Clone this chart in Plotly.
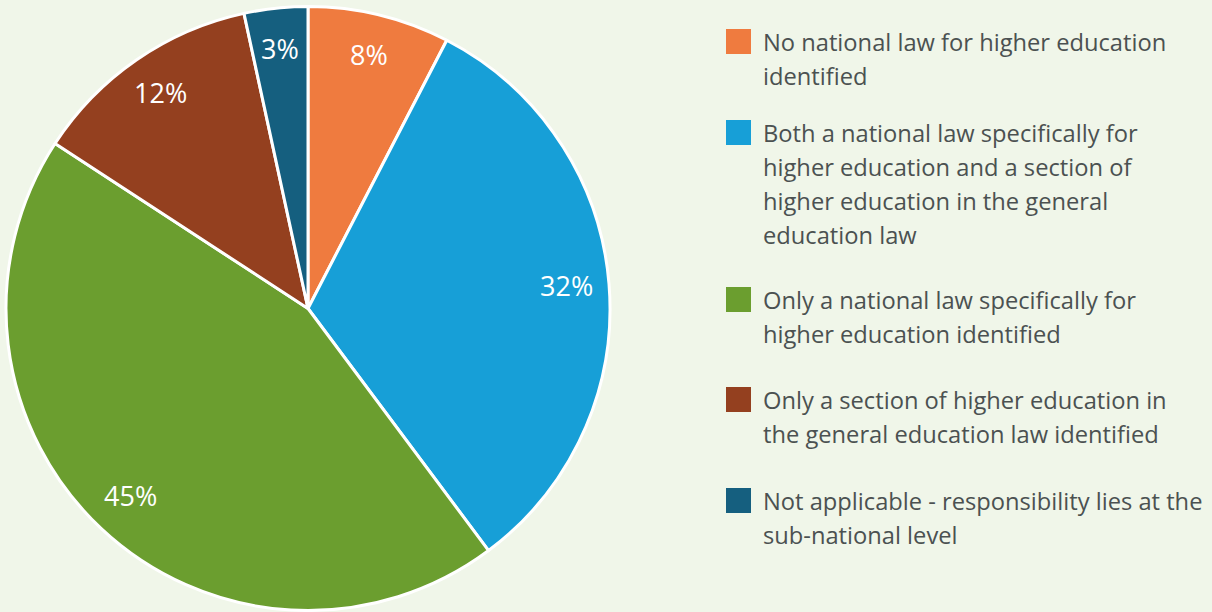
import math
import plotly.graph_objects as go

# ---- data ----
categories = [
    "No national law for higher education<br>identified",
    "Both a national law specifically for<br>higher education and a section of<br>higher education in the general<br>education law",
    "Only a national law specifically for<br>higher education identified",
    "Only a section of higher education in<br>the general education law identified",
    "Not applicable - responsibility lies at the<br>sub-national level",
]
shares = [7.6, 32.2, 44.4, 12.4, 3.4]
pct_labels = ["8%", "32%", "45%", "12%", "3%"]
colors = ["#ef7b3f", "#179fd7", "#6b9e2f", "#94401f", "#155f7f"]

# ---- layout constants (pixels) ----
W, H = 1212, 612
BG = "#f0f6e9"
TEXT = "#4b5151"
CX, CY, R = 308, 308.5, 302
LABEL_R = 0.86 * R
LABEL_DY = -2
LEG_X_BOX = 726
LEG_BOX = 25
LEG_X_TEXT = 761
LEG_TOPS = [29, 120, 287, 387, 488]
LINE_H = 34
FONT = "Open Sans"


def px(x):
    return x / W


def py(y):
    return 1 - y / H


fig = go.Figure()
fig.add_trace(go.Pie(
    values=shares,
    labels=[c.replace("<br>", " ") for c in categories],
    marker=dict(colors=colors, line=dict(color="white", width=3)),
    sort=False,
    direction="clockwise",
    rotation=0,
    textinfo="none",
    showlegend=False,
    domain=dict(x=[px(CX - R), px(CX + R)], y=[py(CY + R), py(CY - R)]),
))

annotations = []
shapes = []

# slice labels placed near the rim at each slice's mid-angle
total = sum(shares)
cum = 0.0
for v, lab in zip(shares, pct_labels):
    theta = 2 * math.pi * (cum + v / 2) / total
    cum += v
    x = CX + LABEL_R * math.sin(theta)
    y = CY - LABEL_R * math.cos(theta) + LABEL_DY
    annotations.append(dict(
        x=px(x), y=py(y), xref="paper", yref="paper",
        text=lab, showarrow=False, xanchor="center", yanchor="middle",
        font=dict(family=FONT, size=27, color="white"),
    ))

# custom legend
for name, col, top in zip(categories, colors, LEG_TOPS):
    shapes.append(dict(
        type="rect", xref="paper", yref="paper",
        x0=px(LEG_X_BOX), x1=px(LEG_X_BOX + LEG_BOX),
        y0=py(top), y1=py(top + LEG_BOX),
        fillcolor=col, line=dict(width=0),
    ))
    for i, line in enumerate(name.split("<br>")):
        baseline = top + 22 + i * LINE_H
        annotations.append(dict(
            x=px(LEG_X_TEXT), y=py(baseline - 9), xref="paper", yref="paper",
            text=line, showarrow=False, xanchor="left", yanchor="middle",
            align="left",
            font=dict(family=FONT, size=23.7, color=TEXT),
        ))

fig.update_layout(
    width=W, height=H,
    margin=dict(l=0, r=0, t=0, b=0),
    paper_bgcolor=BG, plot_bgcolor=BG,
    annotations=annotations, shapes=shapes,
    showlegend=False,
)

fig.write_html("out.html")
